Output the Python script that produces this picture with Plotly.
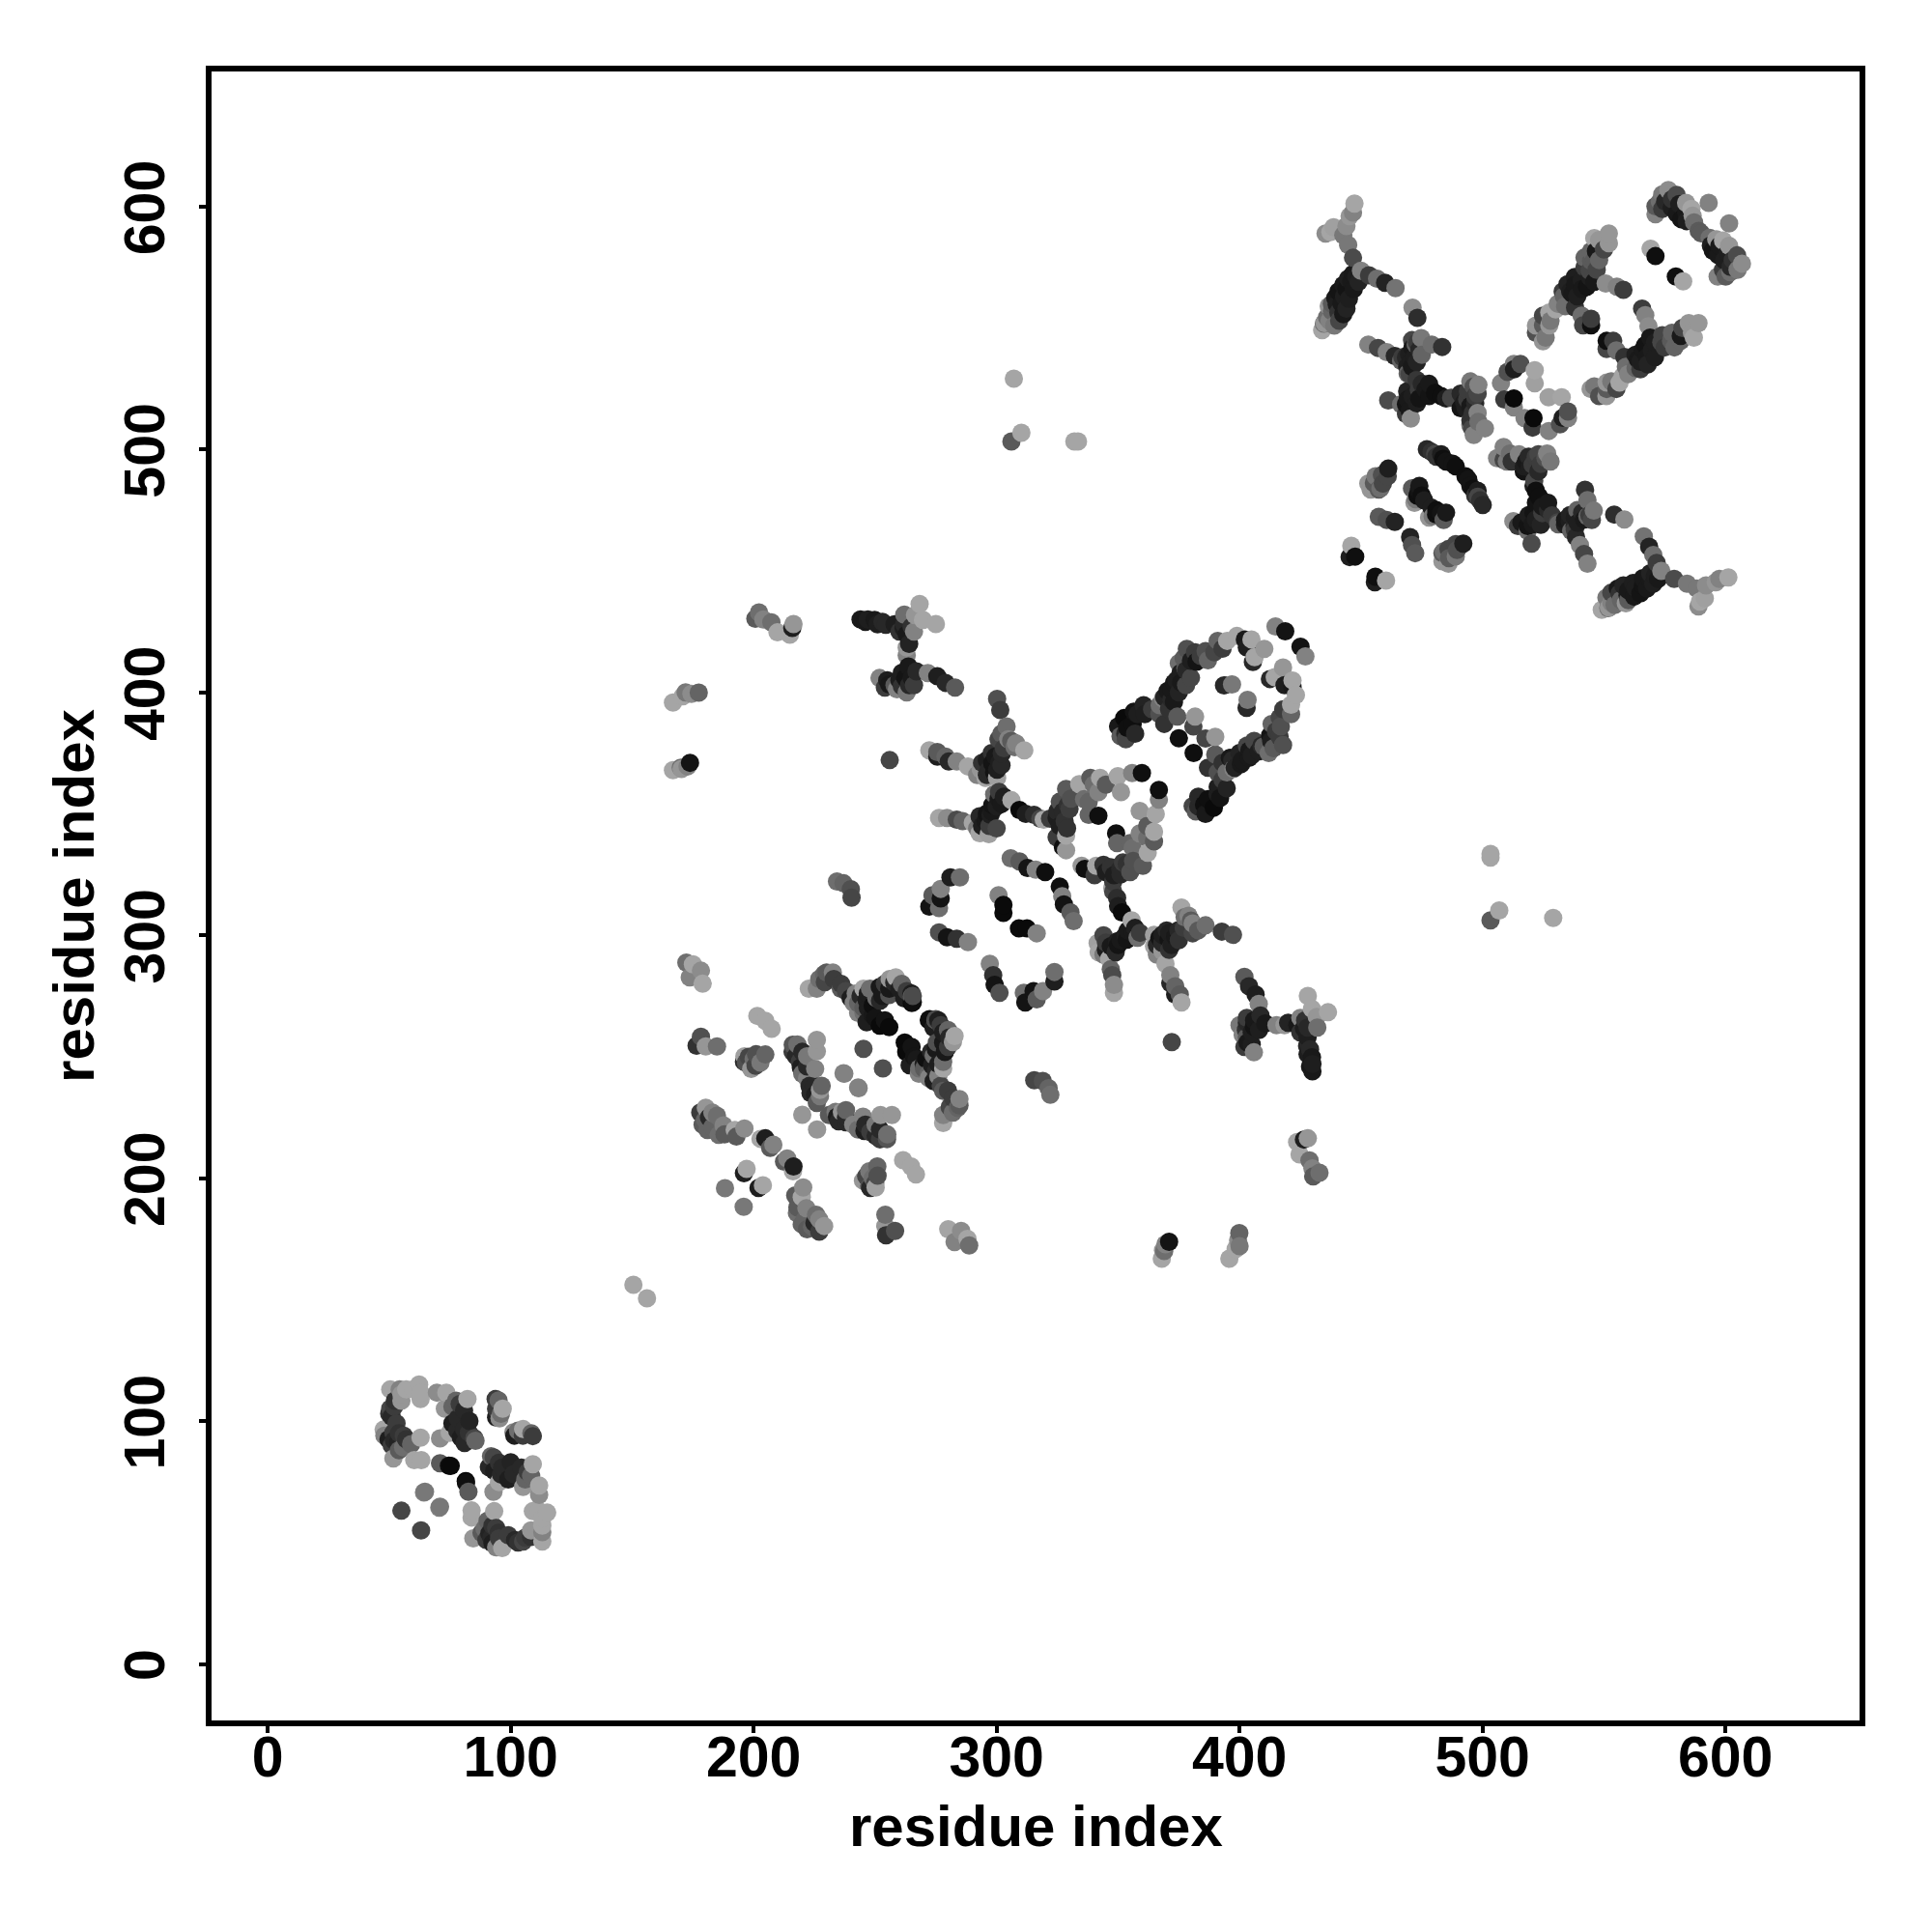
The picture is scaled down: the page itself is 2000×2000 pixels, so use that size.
import plotly.graph_objects as go

domain_a = [(50.4,113,165),(54.3,113,130),(57,113,165),(62.3,115,165),(62.9,111.7,165),(62.9,109.1,165),(69.6,111.7,140),(73.5,111.7,165),
(52.3,108.4,50),(55,108.4,150),(50.4,105.1,70),(51,101.8,40),(47.7,96.5,165),(51.7,95.2,60),(49.7,92.5,30),(53.7,91.2,35),(57,92.5,50),
(55.7,89.2,110),(59,90.5,100),(62.9,93.2,165),(51.7,84.6,150),(60.3,83.9,165),(63.2,83.9,165),(70.9,92.9,140),(74.9,95.2,165),(72.9,105.1,150),
(77.5,108.4,100),(82.2,109.1,165),(80.8,104.4,40),(78.2,101.1,40),(80.8,96.5,40),(82.8,95.2,50),(85.5,91.9,100),(79.5,93.2,30),(93.8,109.1,60),
(95,108.5,100),(96.7,105.1,165),(95.4,101.1,140),(94,101.5,30),(70.9,82.6,90),(74.6,81.6,15),(81.5,75.3,10),(64.3,70.6,130),(70.9,64.7,120),(55,63.1,70),
(150.5,156.1,165),
(52,92,40),(54,95,50),(51,90,60),(56,94,60),(54,88,90),(48,94,130),(53,99,60),(50,103,50),(52,106,60),(55,111,150),(60,113,165),(76,99,30),
(78,96,40),(83,100,35),(76,106,100),(79,107,60),(85,93,70),(81,91,40),(94,105,60),(96,103,110)]

domain_b = [(172.3,288.7,110),(175,288,165),(178.3,285.4,140),(173.7,282.7,130),(179,280.1,165),(201.5,266.8,165),(204.8,264.8,165),(207.4,261.5,165),
(178.3,258.2,80),(176.5,254.5,50),(180.3,254.2,150),(184.9,254.2,110),(196.2,250.2,160),(196.8,247.6,80),(200.8,246.3,70),(202.8,247.6,120),(204.8,250.9,100),
(216.1,254.9,85),(226,256.9,150),(226,252.2,150),(217.4,250.2,40),(222,250.2,120),(219.4,245.6,30),(225.3,245,130),(222,241,130),(223.4,235,40),
(227.3,236.3,150),(227.3,233.7,120),(225.3,234.3,30),(220,226.1,150),(237.3,243,130),(243.2,237,130),(245.2,253.2,80),(222.7,278,165),(226,278,130),
(230,284.7,90),(232.6,284.7,130),(229.3,280.7,70),(235.9,278,90),(239.9,274.1,30),(241.2,272.1,130),(245.2,278,165),(247.9,278,110),(251.9,278.7,25),
(255.8,278,25),(258.5,282.7,165),(257.9,280.5,40),(246.5,273.4,30),(245.2,270.1,90),(250.5,274.1,110),(255.8,275.4,80),(265.1,274.8,90),(265.1,272.1,10),
(251.9,262.8,10),(255.8,262.2,10),(246.5,264.2,30),(245.2,268.1,110),(272.4,265.5,15),(275,265.5,75),(180.3,229,150),(184.9,225.7,110),(181.6,225,40),
(181,219.8,100),(187.6,221.7,130),(185.6,217.8,110),(192.2,219.8,165),(196.2,220.4,140),(192.9,217.1,90),(202.8,216.2,165),(204.8,216.4,30),
(208.1,213.8,130),(206.8,212.5,90),(197.1,203.8,165),(196,202,30),(188.2,195.9,120),(240.3,315.5,70),(240,319,80),(234.3,322.1,110),(237,321.4,100),
(244,275,40),(247,270,30),(249,271,15),(243,272,100),(247,276,30),(252,273,40),(253,275,25),(254,280,60),(256,282,150),(260,278,30),(261,280,100),(249,267,25),
(243,268,130),(242,276,130),(250,266,20),(254,265,20),(262,274,30),(263,277,60),(265,276,30),(220,252,40),(219,248,60),(222,246,40),(220,243,110),(216,252,60),
(218,255,110),(223,238,40),(225,238,40),(228,238,100),(226,231,90),(178,227,60),(179,222,90),(183,221,100),(183,227,130),(188,218,90),(180,224,100),
(196,248,40),(198,250,70),(200,249,110),(201,251,80),(199,245,150),(227,282,110),(229,284,100),(233,282,60),(236,280,60),(238,277,70)]

domain_c = [(202.2,432.9,110),(207.3,428.8,110),(204,430,130),(214.9,423.7,165),(209.8,424.7,165),(215.9,426.5,30),(216.4,428.1,150),(200.7,430.3,90),
(166.8,395.8,165),(170.8,398.4,165),(174.4,399.4,140),(177.4,399.9,100),(166.8,368,165),(170.3,368.5,150),(173.8,371,20),(172.8,369.5,130),
(172,400,120),(170,369,110),(256,372.1,70),(244,430,25),(247,430,30),
(268.3,436.4,165),(266.4,431.8,150),(269.7,429.8,165),(275,428.1,165),(249.8,429.8,25),(254.4,427.8,40),(261.7,426.5,30),(263,423.8,25),(263,418.5,150),
(263,415.2,130),(263.7,410.6,25),(262.4,405.9,20),(261,402.6,50),(251.8,405.9,130),(255.8,403.3,25),(267,408.6,40),(271.7,407.9,130),(275.6,406.6,30),
(279,403.9,40),(282.9,402,90),(259,401.3,130),(300.2,397.3,80),(301.5,392.7,60),(304.1,386,110),(304.8,380.7,130),(300.8,380.7,70),(311.4,376.1,165),
(307.4,377.4,110),(272.3,376.1,165),(275.6,375.4,90),(279,373.5,100),(283.6,371.5,130),(288.2,369.5,165),(275.6,373.5,30),(280.3,371.5,40),(299.5,373.5,25),
(298.2,370.8,20),(296.8,368.2,40),(300.2,368.2,30),(293.5,368.2,150),(295.5,364.8,165),(300.2,364.8,160),(302.1,374.8,40),(300.8,356.2,25),(298.2,353.6,20),
(295.5,347,25),(297.5,349.6,30),(306.1,355.6,165),(309.4,351.6,10),(315.4,349.6,45),(319.4,347.6,165),(296.8,341.6,160),(290.2,346.3,165),(283.6,347.6,75),
(279.6,348.3,140),(276.3,348.3,165),(324.7,348.3,30),(327.3,350.9,40),(329.3,353.6,50),(330.6,356.2,80),(328.6,360.2,90),(334,362.2,165),(338.6,364.8,90),
(342.6,364.8,165),(341.9,358.9,130),(337.9,354.9,100),(336,356,110),(349.9,365.5,165),(351.2,358.9,150),(355.8,366.8,130),(359.8,366.8,15),(341.9,349.2,15),
(337.9,349.6,100),(328.6,341,165),(327.3,336.3,15),(328.6,335,150),(324.7,340.3,60),(305.8,331.7,110),(309.4,330.4,90),(312.7,327.7,20),(316.1,327,130),
(320,326,15),(300.8,316.5,130),(302.8,312.5,10),(302.8,309.2,10),(284.9,323.8,110),(281,323.8,30),(277,319.1,130),(273.6,316.5,90),(277,315.2,20),
(272.3,311.8,20),(276.3,311.2,110),(276.3,301.2,80),(279.6,299.2,20),(283.6,298.6,50),(288.2,297.2,130),
(352.5,389.4,10),(353.8,385.4,15),(353.2,380.7,70),(360.5,394.7,35),(356.5,392,20),(367.1,394.7,110),(368.5,397.5,130),(370.4,400.6,25),(373,403.9,25),
(375.7,407.9,30),(377.7,409.9,90),(378.3,417.9,80),(381.7,416.5,60),(382.3,412.6,20),(387,413.2,100),(389.6,416.5,70),(391,421.2,100),(394.9,421.2,165),
(398.9,423.2,165),(404.9,421.8,165),(402.2,421.8,25),(403,418.5,30),(410.2,417.9,150),(406.2,414.5,165),(405.5,412.5,40),(414.8,427.1,130),(418.8,425.1,20),
(373,396,25),(374.4,390,90),(381.7,390,150),(381,386,70),(393.6,402.9,40),(396.9,403.3,120),(375,381.1,15),
(296,372,30),(298,375,50),(301,371,30),(299,367,20),(294,371,50),(296,366,40),(302,370,40),(303,377,60),(292,366,130),(306,380,90),(302,383,90),(308,379,130),
(298,351,25),(300,353,30),(296,350,20),(293,349,40),(294,345,30),(297,345,60),(302,354,25),(303,357,30),(299,358,110),(301,359,60),(293,342,165),(300,344,70),
(286,347,100),(292,344,120),(312,350,30),(318,348,70),(322,348,60),(326,345,30),(325,351,40),(328,347,50),(330,352,60),(326,355,80),
(329,344,50),(340,362,110),(345,362,90),
(369,398,35),(372,401,25),(374,405,30),(376,404,25),(378,409,40),(372,397,40),(375,400,35),(367,391,80),(371,393,50),(369,387,50),(380,413,30),(384,415,60),
(375,412,110),(377,414,90),(378,403,70),(380,406,70),(386,417,80),(393,418,60),(356,387,15),(357,383,40),(353,383,40),(358,391,30),(350,386,25),(351,382,90),
(361,391,30),(364,393,60),(260,405,30),(264,403,40),(265,406,25),(261,408,30),(258,403,90),(263,400,120),(266,403,60),(264,420,35),(262,428,40),(265,427,50),
(260,425,50),(262,432,110),(266,425,130),(258,428,30),(253,429,40),(251,428,30),(246,429,25),(255,405,30),(254,402,60)]

domain_d = [(307.1,529.1,165),(310.2,506.9,165),(306.1,503.3,90),(332,503.3,165),(333.5,503.3,165),
(447.3,601.2,165),(446.7,597.5,130),(445.3,596,150),(444,592,140),(437.4,589.5,165),(435.4,588.9,140),(438.7,591.5,160),(442.7,588.2,120),(444.7,584.2,120),
(446.7,578.9,75),(450,573.6,130),(453.3,571.7,60),(456.6,570.3,110),(459.9,568.6,35),(464.2,566.4,115),(446.7,572.3,25),(444.7,570.3,30),(442.7,567.7,25),
(440.7,565,20),(439.4,562.4,25),(440,559.7,30),(442.7,555.7,25),(440.7,556.4,50),(436.7,559,150),(436,554.4,110),(434.7,551.8,110),(434,549.1,165),
(471.2,558.4,140),(473.2,554.2,45),(453,543.2,130),(457,541.8,70),(460.6,540.1,130),(463.9,538.5,40),(466.5,536.5,100),(471.2,541.8,25),(469.8,539.2,30),
(470.5,535.9,30),(468.5,537.9,40),(474.8,545.8,120),(472.5,543.2,100),(479.1,543.2,110),(483.4,542.2,50),(469.2,531.2,100),(472.9,528.6,55),(476.5,524.6,25),
(480.5,523.3,15),(487.1,521.3,70),(492.4,519.3,30),(495,517.9,25),(497,521.9,60),(498.3,526.6,130),(496.4,525.9,80),(493.7,520.6,60),(461.2,520.2,75),
(466.5,518.6,110),(469.2,520.6,25),(471.2,521.9,30),(468.5,518.6,20),(470.5,512.7,140),(468.5,514.6,60),(473.8,524.6,60),(495.7,508.7,70),(501,508.7,130),
(496.4,506,130),(495,510,120),(498.3,511.3,110),(512.9,535.2,130),(515.6,535.2,80),(510.3,531.9,80),(513,533,30),(507.6,527.3,130),(521.5,532.6,165),
(521.5,527.2,160),(512.9,521,10),(509,520.6,60),(512.9,517.3,130),(477.1,500.1,40),(480.5,498.1,70),(483.8,496.1,15),(487.7,494.1,20),(461.2,492.1,30),
(458.6,489.5,80),(455.3,486.2,90),(454,483.5,150),(457.3,483.5,90),(473.8,482.9,20),(473.2,480.9,15),(472.5,479.5,120),(457.3,472.3,90),(460.6,471,80),
(463.9,470.2,35),(446,460.3,165),(447.6,455.9,15),(445.3,455.7,30),
(552,588.9,150),(548,586.2,150),(552,584.9,150),(550,582.3,70),(546.7,581.6,25),(544.7,581.6,100),(544.7,577.6,90),(544.1,573.6,70),(544.1,571,30),
(540.8,569.7,30),(538.1,567.7,25),(536.1,565,30),(533.5,563,100),(530.1,557.7,165),(527.5,556.4,165),(524.9,555.1,70),(524.9,551.1,90),(524.9,544.5,150),
(527.5,551.1,150),(538.1,558.4,50),(540.8,555.1,110),(544.7,553.8,60),(544.7,551.1,15),(541.4,551.1,70),(550.7,568.3,140),(555.3,567,130),(558,565.7,60),
(576.5,606.8,140),(579.9,604.8,75),(583.8,601.5,150),(593.1,601.5,130),(571.2,600.1,90),(571.2,596.8,130),(575.2,602.1,40),(577.9,599.5,30),(581.8,594.8,20),
(587.1,593.5,110),(583.8,597.5,25),(586.5,596.2,150),(569.2,582.6,165),(571.2,579.6,15),
(442,560,25),(443,563,30),(444,566,20),(446,569,25),(448,571,30),(449,569,35),(447,566,25),(445,562,30),(444,558,35),(438,560,90),(438,557,100),(437,553,130),
(439,551,120),(435,552,150),(441,553,70),(472,538,30),(473,536,35),(471,534,25),(469,534,30),(474,541,40),(473,544,60),(467,538,60),(471,545,70),(475,539,100),
(470,531,70),(475,527,40),(478,527,25),(478,522,20),(483,522,15),(485,521,30),(470,516,25),(473,519,30),
(469,524,35),(474,521,20),(491,523,40),(494,524,60),(493,517,30),(497,519,40),(495,528,120),(498,523,70),(491,517,20),(496,515,50),(498,515,130),(495,512,50),
(538,571,30),(541,566,25),(537,564,25),(535,568,35),(539,563,30),(533,565,60),(531,560,130),(534,559,110),(543,567,20),(546,569,25),(547,574,70),(546,578,90),
(542,575,60),(542,579,100),(528,553,120),(522,551,150),(522,548,80),(526,546,120),(548,578,100),(546,587,165),(578,603,50),(581,601,30),(574,599,60),(580,597,25),
(584,594,30),(574,605,120),(586,599,165),(573,602,110),(589,590,90),(459,486,70),(461,489,70),(456,489,120),(453,486,150),(458,484,110),(474,485,25),(475,481,15),
(476,479,30),(471,484,90),(472,478,150),(481,497,50),(479,499,50),(485,495,20),(483,498,30),(489,493,15)]

x_tick_labels = [0, 100, 200, 300, 400, 500, 600]
y_tick_labels = [0, 100, 200, 300, 400, 500, 600]
x_title = "residue index"
y_title = "residue index"

half = domain_a + domain_b + domain_c + domain_d
both = half + [(j, i, s) for i, j, s in half]   # a contact map holds each pair twice
both.sort(key=lambda p: (p[0], p[1]))
xs = [p[0] for p in both]
ys = [p[1] for p in both]
shade = [p[2] for p in both]

fig = go.Figure(go.Scatter(
    x=xs, y=ys, mode="markers", hoverinfo="skip",
    marker=dict(size=19, color=shade, cmin=0, cmax=255,
                colorscale=[[0, "#000000"], [1, "#ffffff"]], line=dict(width=0), showscale=False),
))

font = "Liberation Sans"
axis = dict(showgrid=False, zeroline=False, showline=True, mirror=True, linecolor="black", linewidth=6,
            ticks="outside", ticklen=7, tickwidth=4, tickcolor="black",
            tickfont=dict(family=font, size=59, color="black", weight="bold"))
fig.update_layout(
    width=2000, height=2000, autosize=False,
    paper_bgcolor="white", plot_bgcolor="white", showlegend=False,
    margin=dict(l=211, r=83, t=66, b=227, pad=0),
    xaxis=dict(axis, range=[-23.14, 655.2], tickvals=x_tick_labels, ticktext=[str(v) for v in x_tick_labels],
               ticklabelstandoff=-26),
    yaxis=dict(axis, range=[-23.26, 655.6], tickvals=y_tick_labels, ticktext=[str(v) for v in y_tick_labels], tickangle=-90,
               ticklabelstandoff=12, ticklabelshift=10,
               title=dict(text=y_title, standoff=2, font=dict(family=font, size=60, color="black", weight="bold"))),
    annotations=[dict(text=x_title, xref="paper", yref="paper", x=0.5, y=-0.0644, xanchor="center", yanchor="middle",
                      showarrow=False, font=dict(family=font, size=60, color="black", weight="bold"))],
)
fig.write_html("out.html")
